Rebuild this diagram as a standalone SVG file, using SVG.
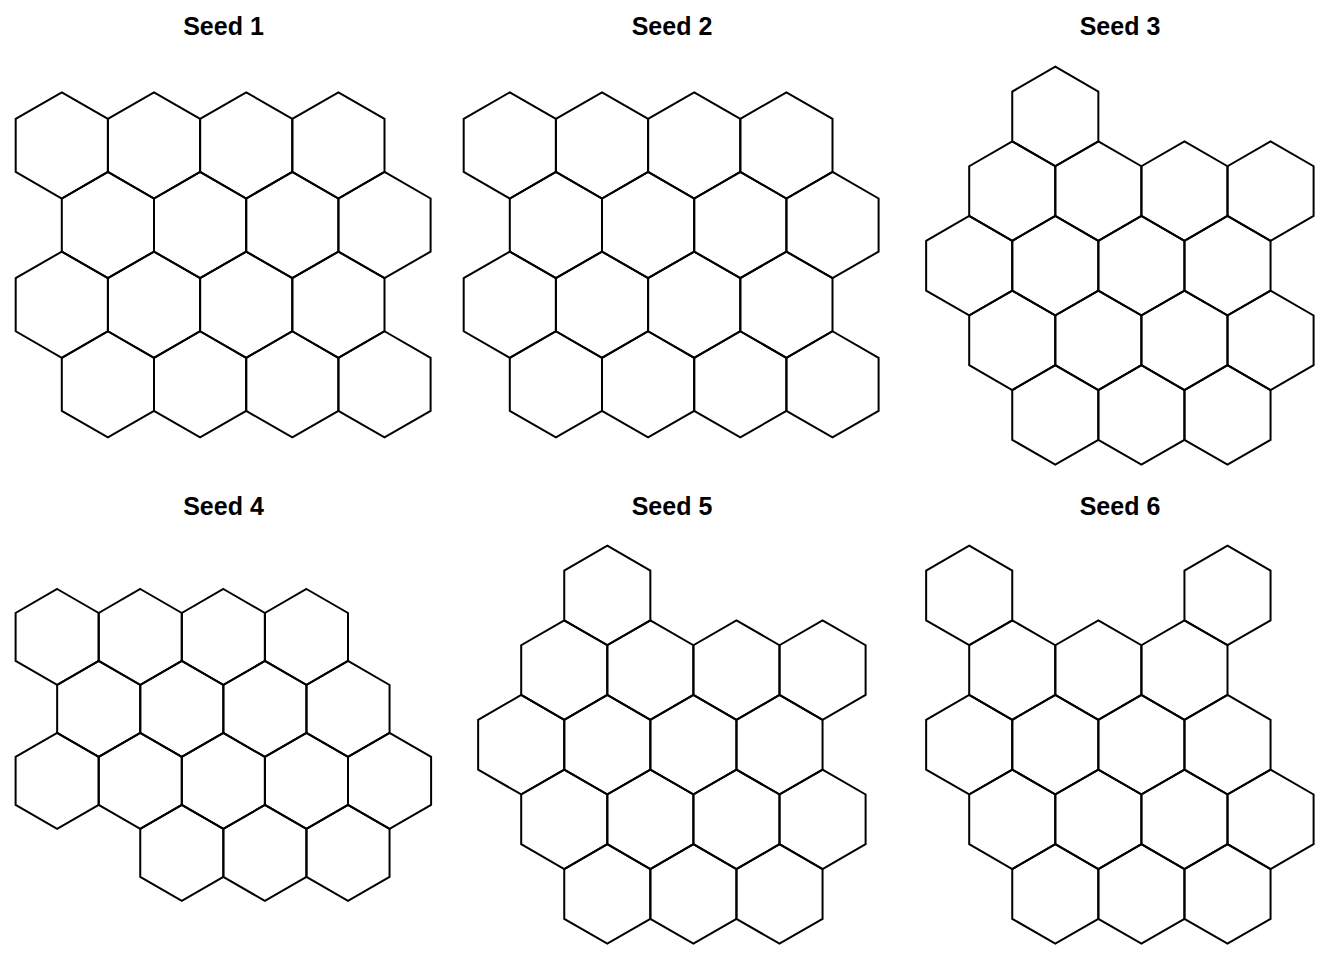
<svg xmlns="http://www.w3.org/2000/svg" width="1344" height="960" viewBox="0 0 1344 960">
<style>
.hx{fill:none;stroke:#000;stroke-width:2;stroke-linejoin:miter}
.t{font-family:"Liberation Sans",Arial,sans-serif;font-weight:bold;font-size:25px;text-anchor:middle;fill:#000}
</style>
<defs>
<polygon id="hA" class="hx" points="0,-53.1 46.1,-26.55 46.1,26.55 0,53.1 -46.1,26.55 -46.1,-26.55"/>
<polygon id="hB" class="hx" points="0,-49.75 43.05,-24.875 43.05,24.875 0,49.75 -43.05,24.875 -43.05,-24.875"/>
<polygon id="hC" class="hx" points="0,-47.98 41.55,-23.99 41.55,23.99 0,47.98 -41.55,23.99 -41.55,-23.99"/>
</defs>
<rect width="1344" height="960" fill="#fff"/>
<g id="titles">
<text class="t" x="223.5" y="35">Seed 1</text>
<text class="t" x="672" y="35">Seed 2</text>
<text class="t" x="1120" y="35">Seed 3</text>
<text class="t" x="223.5" y="515">Seed 4</text>
<text class="t" x="672" y="515">Seed 5</text>
<text class="t" x="1120" y="515">Seed 6</text>
</g>
<g id="seed1">
<use href="#hA" x="61.8" y="145.4"/><use href="#hA" x="154" y="145.4"/><use href="#hA" x="246.2" y="145.4"/><use href="#hA" x="338.4" y="145.4"/>
<use href="#hA" x="107.9" y="225.05"/><use href="#hA" x="200.1" y="225.05"/><use href="#hA" x="292.3" y="225.05"/><use href="#hA" x="384.5" y="225.05"/>
<use href="#hA" x="61.8" y="304.7"/><use href="#hA" x="154" y="304.7"/><use href="#hA" x="246.2" y="304.7"/><use href="#hA" x="338.4" y="304.7"/>
<use href="#hA" x="107.9" y="384.35"/><use href="#hA" x="200.1" y="384.35"/><use href="#hA" x="292.3" y="384.35"/><use href="#hA" x="384.5" y="384.35"/>
</g>
<g id="seed2" transform="translate(448,0)">
<use href="#hA" x="61.8" y="145.4"/><use href="#hA" x="154" y="145.4"/><use href="#hA" x="246.2" y="145.4"/><use href="#hA" x="338.4" y="145.4"/>
<use href="#hA" x="107.9" y="225.05"/><use href="#hA" x="200.1" y="225.05"/><use href="#hA" x="292.3" y="225.05"/><use href="#hA" x="384.5" y="225.05"/>
<use href="#hA" x="61.8" y="304.7"/><use href="#hA" x="154" y="304.7"/><use href="#hA" x="246.2" y="304.7"/><use href="#hA" x="338.4" y="304.7"/>
<use href="#hA" x="107.9" y="384.35"/><use href="#hA" x="200.1" y="384.35"/><use href="#hA" x="292.3" y="384.35"/><use href="#hA" x="384.5" y="384.35"/>
</g>
<g id="seed3">
<use href="#hB" x="1055.3" y="116.45"/>
<use href="#hB" x="1012.25" y="191.08"/><use href="#hB" x="1098.35" y="191.08"/><use href="#hB" x="1184.45" y="191.08"/><use href="#hB" x="1270.55" y="191.08"/>
<use href="#hB" x="969.2" y="265.7"/><use href="#hB" x="1055.3" y="265.7"/><use href="#hB" x="1141.4" y="265.7"/><use href="#hB" x="1227.5" y="265.7"/>
<use href="#hB" x="1012.25" y="340.33"/><use href="#hB" x="1098.35" y="340.33"/><use href="#hB" x="1184.45" y="340.33"/><use href="#hB" x="1270.55" y="340.33"/>
<use href="#hB" x="1055.3" y="414.95"/><use href="#hB" x="1141.4" y="414.95"/><use href="#hB" x="1227.5" y="414.95"/>
</g>
<g id="seed4">
<use href="#hC" x="57.15" y="636.98"/><use href="#hC" x="140.25" y="636.98"/><use href="#hC" x="223.35" y="636.98"/><use href="#hC" x="306.45" y="636.98"/>
<use href="#hC" x="98.7" y="708.95"/><use href="#hC" x="181.8" y="708.95"/><use href="#hC" x="264.9" y="708.95"/><use href="#hC" x="348" y="708.95"/>
<use href="#hC" x="57.15" y="780.92"/><use href="#hC" x="140.25" y="780.92"/><use href="#hC" x="223.35" y="780.92"/><use href="#hC" x="306.45" y="780.92"/><use href="#hC" x="389.55" y="780.92"/>
<use href="#hC" x="181.8" y="852.89"/><use href="#hC" x="264.9" y="852.89"/><use href="#hC" x="348" y="852.89"/>
</g>
<g id="seed5">
<use href="#hB" x="607.3" y="595.45"/>
<use href="#hB" x="564.25" y="670.08"/><use href="#hB" x="650.35" y="670.08"/><use href="#hB" x="736.45" y="670.08"/><use href="#hB" x="822.55" y="670.08"/>
<use href="#hB" x="521.2" y="744.7"/><use href="#hB" x="607.3" y="744.7"/><use href="#hB" x="693.4" y="744.7"/><use href="#hB" x="779.5" y="744.7"/>
<use href="#hB" x="564.25" y="819.33"/><use href="#hB" x="650.35" y="819.33"/><use href="#hB" x="736.45" y="819.33"/><use href="#hB" x="822.55" y="819.33"/>
<use href="#hB" x="607.3" y="893.95"/><use href="#hB" x="693.4" y="893.95"/><use href="#hB" x="779.5" y="893.95"/>
</g>
<g id="seed6">
<use href="#hB" x="969.2" y="595.45"/><use href="#hB" x="1227.5" y="595.45"/>
<use href="#hB" x="1012.25" y="670.08"/><use href="#hB" x="1098.35" y="670.08"/><use href="#hB" x="1184.45" y="670.08"/>
<use href="#hB" x="969.2" y="744.7"/><use href="#hB" x="1055.3" y="744.7"/><use href="#hB" x="1141.4" y="744.7"/><use href="#hB" x="1227.5" y="744.7"/>
<use href="#hB" x="1012.25" y="819.33"/><use href="#hB" x="1098.35" y="819.33"/><use href="#hB" x="1184.45" y="819.33"/><use href="#hB" x="1270.55" y="819.33"/>
<use href="#hB" x="1055.3" y="893.95"/><use href="#hB" x="1141.4" y="893.95"/><use href="#hB" x="1227.5" y="893.95"/>
</g>
</svg>
